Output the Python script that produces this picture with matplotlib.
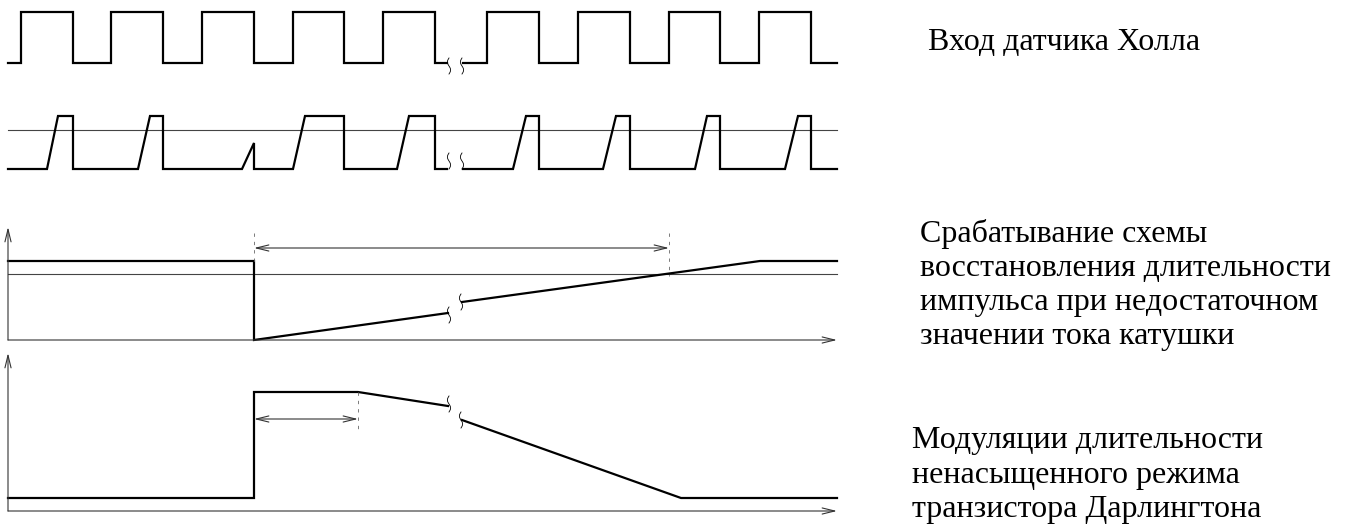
import numpy as np
import matplotlib.pyplot as plt

# --- diagram data (horizontal = time, vertical = level, in drawing units) ---
# Hall sensor input: alternating rise/fall edge times, before and after the break
hall_start_a, hall_end_a = 8, 447
hall_edges_a = [21, 73, 111, 163, 202, 254, 293, 344, 383, 435]
hall_start_b, hall_end_b = 463, 837
hall_edges_b = [487, 539, 578, 630, 669, 720, 759, 811]
hall_lo, hall_hi = 63, 12

# comparator signal: (ramp start, ramp top, fall time, top level)
cmp_lo = 169
cmp_thr = 130
cmp_start_a, cmp_end_a = 8, 447
cmp_pulses_a = [(47, 58, 73, 116), (138, 150, 163, 116), (242, 254, 254, 143),
                (293, 305, 344, 116), (397, 409, 435, 116)]
cmp_start_b, cmp_end_b = 463, 837
cmp_pulses_b = [(513, 526, 539, 116), (603, 616, 630, 116),
                (695, 707, 720, 116), (785, 798, 811, 116)]

# pulse-width recovery circuit
rec_axis_y, rec_axis_top = 340, 227
rec_thr = 274
rec_a_x = [8, 254, 254, 448]
rec_a_y = [261, 261, 340, 313]
rec_b_x = [462, 760, 837]
rec_b_y = [302, 261, 261]
rec_dim = (254, 669, 248)

# unsaturated mode modulation of the Darlington transistor
mod_axis_y, mod_axis_top = 511, 353
mod_a_x = [8, 254, 254, 358, 448]
mod_a_y = [498, 498, 392, 392, 406]
mod_b_x = [462, 681, 837]
mod_b_y = [420, 498, 498]
mod_dim = (254, 358, 419)

x_left, x_right = 8, 837

labels_hall = ["Вход датчика Холла"]
labels_rec = ["Срабатывание схемы", "восстановления длительности",
              "импульса при недостаточном", "значении тока катушки"]
labels_mod = ["Модуляции длительности", "ненасыщенного режима",
              "транзистора Дарлингтона"]

SIG = dict(color='black', lw=1.6, solid_joinstyle='miter')
THIN = dict(color='#444444', lw=0.8)


def hall_path(start, end, edges, level0):
    xs, ys = [start], [level0]
    lvl = level0
    for e in edges:
        xs += [e, e]
        new = hall_hi if lvl == hall_lo else hall_lo
        ys += [lvl, new]
        lvl = new
    xs.append(end)
    ys.append(lvl)
    return xs, ys


def cmp_path(start, end, pulses):
    xs, ys = [start], [cmp_lo]
    for r0, r1, f, top in pulses:
        xs += [r0, r1, f, f]
        ys += [cmp_lo, top, top, cmp_lo]
    xs.append(end)
    ys.append(cmp_lo)
    return xs, ys


def break_mark(ax, x, y, h=8):
    t = np.linspace(-1, 1, 30)
    ax.plot(x + 1.6 * np.sin(np.pi * t), y + h * t, color='black', lw=0.6)


def arrow(ax, x0, y0, x1, y1, style='->'):
    ax.annotate('', xy=(x1, y1), xytext=(x0, y0),
                arrowprops=dict(arrowstyle=style + ',head_length=0.9,head_width=0.22',
                                color='#333333', lw=0.8, shrinkA=0, shrinkB=0))


fig = plt.figure(figsize=(13.45, 5.29), dpi=100)
ax = fig.add_axes([0, 0, 1, 1])
ax.set_xlim(0, 1345)
ax.set_ylim(529, 0)
ax.axis('off')

# Hall input
for s, e, edges in [(hall_start_a, hall_end_a, hall_edges_a),
                    (hall_start_b, hall_end_b, hall_edges_b)]:
    xs, ys = hall_path(s, e, edges, hall_lo)
    ax.plot(xs, ys, **SIG)
break_mark(ax, 449, 66)
break_mark(ax, 462, 66)

# comparator
ax.plot([x_left, x_right], [cmp_thr, cmp_thr], **THIN)
for s, e, p in [(cmp_start_a, cmp_end_a, cmp_pulses_a),
                (cmp_start_b, cmp_end_b, cmp_pulses_b)]:
    xs, ys = cmp_path(s, e, p)
    ax.plot(xs, ys, **SIG)
break_mark(ax, 449, 161)
break_mark(ax, 462, 161)

# recovery panel
arrow(ax, x_left, rec_axis_y, x_left, rec_axis_top)
arrow(ax, x_left, rec_axis_y, x_right, rec_axis_y)
ax.plot([x_left, x_right], [rec_thr, rec_thr], **THIN)
ax.plot(rec_a_x, rec_a_y, **SIG)
ax.plot(rec_b_x, rec_b_y, **SIG)
break_mark(ax, 449, 315)
break_mark(ax, 461, 302)
d0, d1, dy = rec_dim
arrow(ax, d0, dy, d1, dy, '<->')
ax.plot([d0, d0], [233, 262], color='#666666', lw=0.6, ls=(0, (4, 6)))
ax.plot([d1, d1], [233, 276], color='#666666', lw=0.6, ls=(0, (4, 6)))

# modulation panel
arrow(ax, x_left, mod_axis_y, x_left, mod_axis_top)
arrow(ax, x_left, mod_axis_y, x_right, mod_axis_y)
ax.plot(mod_a_x, mod_a_y, **SIG)
ax.plot(mod_b_x, mod_b_y, **SIG)
break_mark(ax, 449, 404)
break_mark(ax, 461, 420)
d0, d1, dy = mod_dim
arrow(ax, d0, dy, d1, dy, '<->')
ax.plot([d1, d1], [392, 433], color='#666666', lw=0.6, ls=(0, (4, 6)))

# captions
font = dict(family='Liberation Serif', fontsize=23, va='baseline', ha='left')
for i, t in enumerate(labels_hall):
    ax.text(928, 50 + 34 * i, t, **font)
for i, t in enumerate(labels_rec):
    ax.text(920, 242 + 34 * i, t, **font)
for i, t in enumerate(labels_mod):
    ax.text(912, 448 + 34.5 * i, t, **font)

fig.savefig('out.png', dpi=100)
